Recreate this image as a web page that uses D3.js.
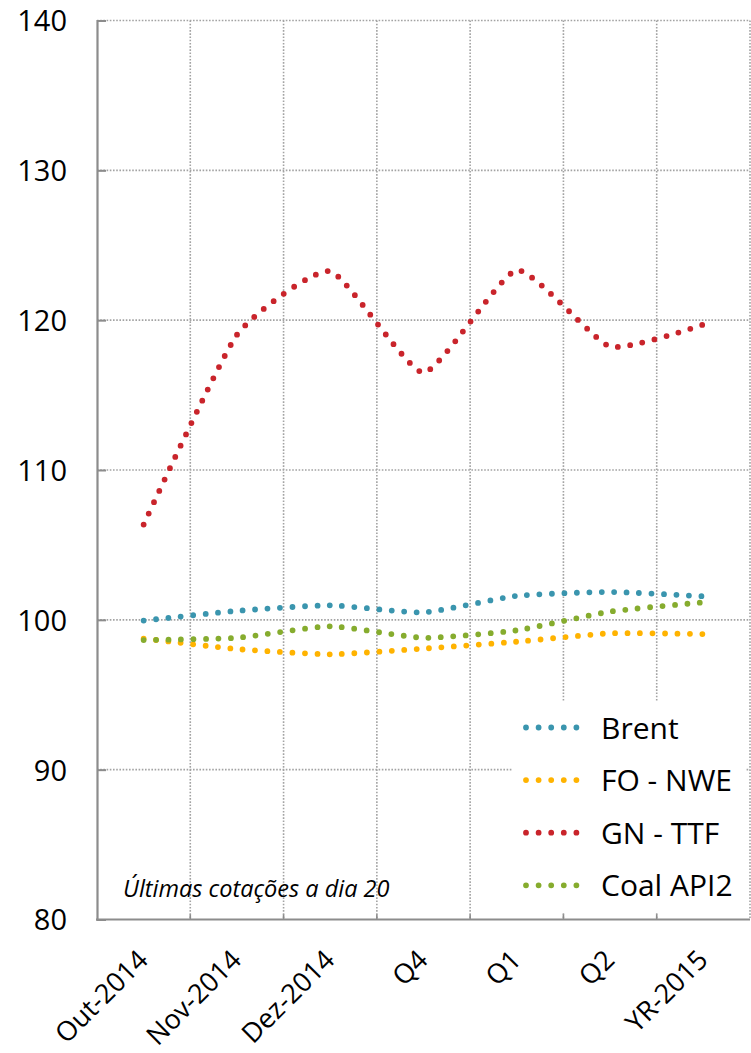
<!DOCTYPE html>
<html><head><meta charset="utf-8">
<script src="https://cdn.jsdelivr.net/npm/d3@7"></script>
<style>
html,body{margin:0;padding:0;background:#fff;}
svg{display:block;}
</style></head>
<body>
<svg id="chart" width="751" height="1053"></svg>
<script>
const categories = ["Out-2014","Nov-2014","Dez-2014","Q4","Q1","Q2","YR-2015"];
const brent = [99.95, 100.6, 100.97, 100.5, 101.6, 101.86, 101.57];
const foNwe = [98.75, 98.05, 97.7, 98.08, 98.54, 99.1, 99.05];
const gnTtf = [106.36, 119.02, 123.27, 116.5, 123.34, 118.24, 119.71];
const coal  = [98.65, 98.8, 99.57, 98.8, 99.3, 100.55, 101.17];
const yTicks = [80, 90, 100, 110, 120, 130, 140];
const seriesNames = ["Brent","FO - NWE","GN - TTF","Coal API2"];
const seriesColors = ["#3a95ae","#ffb300","#c9242b","#86ac2e"];
const seriesValues = [brent, foNwe, gnTtf, coal];
const noteText = "Últimas cotações a dia 20";

const svg = d3.select("#chart");
const L = 97, R = 750, T = 20.5, B = 919.5;
const x = d3.scaleBand().domain(categories).range([L, R]);
const y = d3.scaleLinear().domain([80, 140]).range([B, T]);
const gridColor = "#a3a3a3", axisColor = "#8c8c8c";

// horizontal gridlines
svg.append("g").selectAll("line").data(yTicks.filter(d => d > 80)).join("line")
  .attr("x1", L).attr("x2", R).attr("y1", d => y(d)).attr("y2", d => y(d))
  .attr("stroke", gridColor).attr("stroke-width", 1.6).attr("stroke-dasharray", "1.6,1.6");
// vertical gridlines at band boundaries
const bounds = categories.map(c => x(c) + x.bandwidth());
svg.append("g").selectAll("line").data(bounds).join("line")
  .attr("x1", d => d).attr("x2", d => d).attr("y1", T).attr("y2", B)
  .attr("stroke", gridColor).attr("stroke-width", 1.6).attr("stroke-dasharray", "1.6,1.6");

// y axis
const yAxis = d3.axisLeft(y).tickValues(yTicks).tickSize(-9).tickPadding(30).tickFormat(d3.format("d"));
const ya = svg.append("g").attr("transform", `translate(${L},0)`).call(yAxis);
ya.select(".domain").attr("stroke", axisColor).attr("stroke-width", 2.2);
ya.selectAll(".tick line").attr("stroke", axisColor).attr("stroke-width", 2);
ya.selectAll(".tick text").attr("font-family", "Open Sans").attr("font-size", 29).attr("fill", "#000")
  .attr("x", -30).attr("dy", "0.36em");

// x axis
const xa = svg.append("g").attr("transform", `translate(0,${B})`);
xa.append("line").attr("x1", L - 1).attr("x2", R).attr("y1", 0).attr("y2", 0)
  .attr("stroke", axisColor).attr("stroke-width", 2.2);
xa.selectAll("line.tk").data(bounds.slice(0, -1)).join("line").attr("class", "tk")
  .attr("x1", d => d).attr("x2", d => d).attr("y1", 0).attr("y2", -5)
  .attr("stroke", axisColor).attr("stroke-width", 1.6);
xa.selectAll("text").data(categories).join("text")
  .attr("transform", d => `translate(${x(d) + x.bandwidth() / 2 + 6},${42}) rotate(-45)`)
  .attr("text-anchor", "end")
  .attr("font-family", "Open Sans").attr("font-size", 27).attr("fill", "#000")
  .text(d => d);

// series
const line = d3.line()
  .x((d, i) => x(categories[i]) + x.bandwidth() / 2)
  .y(d => y(d))
  .curve(d3.curveCardinal.tension(0.5));
svg.append("g").selectAll("path").data(seriesValues).join("path")
  .attr("d", d => line(d)).attr("fill", "none")
  .attr("stroke", (d, i) => seriesColors[i]).attr("stroke-width", 5.8)
  .attr("stroke-linecap", "round").attr("stroke-dasharray", "0,12.45");

// legend
const lg = svg.append("g");
lg.append("rect").attr("x", 512).attr("y", 702).attr("width", 233).attr("height", 211).attr("fill", "#fff");
const items = lg.selectAll("g.it").data(seriesNames).join("g").attr("class", "it")
  .attr("transform", (d, i) => `translate(0,${727.5 + i * 52.6})`);
items.append("line").attr("x1", 526).attr("x2", 589).attr("y1", 0).attr("y2", 0)
  .attr("stroke", (d, i) => seriesColors[i]).attr("stroke-width", 5.8)
  .attr("stroke-linecap", "round").attr("stroke-dasharray", "0,12.6");
items.append("text").attr("x", 601).attr("y", 11)
  .attr("font-family", "Open Sans").attr("font-size", 30).attr("fill", "#000")
  .text(d => d);

// note
svg.append("text").attr("x", 123).attr("y", 897)
  .attr("font-family", "Open Sans").attr("font-style", "italic").attr("font-size", 23.5).attr("fill", "#000")
  .text(noteText);
</script>
</body></html>
